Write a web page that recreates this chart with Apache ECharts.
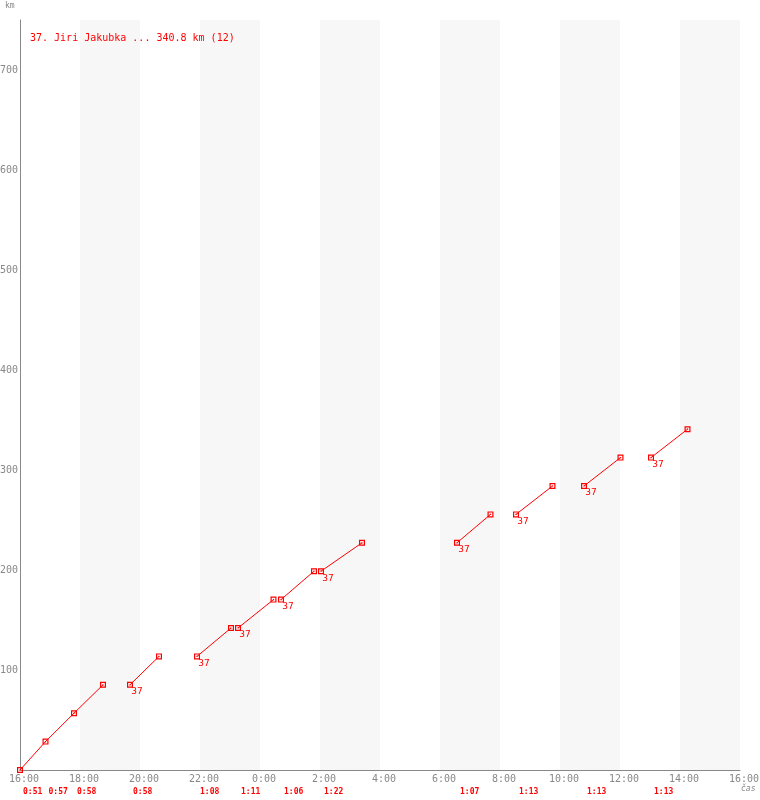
<!DOCTYPE html>
<html><head><meta charset="utf-8">
<script src="https://cdn.jsdelivr.net/npm/echarts@6/dist/echarts.min.js"></script>
<style>html,body{margin:0;padding:0;background:#fff}#c{width:760px;height:800px}</style>
</head><body><div id="c"></div>
<script>
// Data
const titleText = '37. Jiri Jakubka ... 340.8 km (12)';
const riderNo = '37';
const xTickLabels = ['16:00','18:00','20:00','22:00','0:00','2:00','4:00','6:00','8:00','10:00','12:00','14:00','16:00'];
// Each segment: list of [clock time, km]
const segments = [
  [['16:00',0],['16:51',28.4],['17:48',56.8],['18:46',85.2]],
  [['19:40',85.2],['20:38',113.6]],
  [['21:54',113.6],['23:02',142.0]],
  [['23:16',142.0],['0:27',170.4]],
  [['0:42',170.4],['1:48',198.8]],
  [['2:02',198.8],['3:24',227.2]],
  [['6:34',227.2],['7:41',255.6]],
  [['8:32',255.6],['9:45',284.0]],
  [['10:48',284.0],['12:01',312.4]],
  [['13:02',312.4],['14:15',340.8]]
];
const lapStarts = ['16:00','16:51','17:48','19:40','21:54','23:16','0:42','2:02','6:34','8:32','10:48','13:02'];
const lapTimes  = ['0:51','0:57','0:58','0:58','1:08','1:11','1:06','1:22','1:07','1:13','1:13','1:13'];

function toH(t){const p=t.split(':');return ((+p[0]-16+24)%24)+(+p[1])/60;}
const font='"DejaVu Sans Mono", monospace';
const marker='path://M0,0H5V5H0Z M1,1V4H4V1Z M2,2H3V3H2Z';

const series = segments.map((seg,si)=>({
  type:'line',
  data: seg.map((p,i)=>{
    const item={value:[toH(p[0]),p[1]]};
    if(i===0 && si>0){item.label={show:true,formatter:riderNo,position:'inside',offset:[7,7],color:'#ff0000',fontSize:9,fontFamily:'"DejaVu Sans", sans-serif'};}
    return item;
  }),
  symbol:marker, symbolSize:6, showSymbol:true,
  itemStyle:{color:'#ff0000'},
  lineStyle:{color:'#ff0000',width:1},
  label:{show:false},
  animation:false, silent:true, clip:false
}));
series.push({
  type:'custom',
  data: lapStarts.map((t,i)=>[toH(t),0,i]),
  renderItem:(params,api)=>{
    const p=api.coord([api.value(0),0]);
    return {type:'text',x:p[0]+3,y:p[1]+22,style:{text:lapTimes[api.value(2)],fill:'#ff0000',font:'bold 8px '+font,textAlign:'left',textVerticalAlign:'middle'}};
  },
  animation:false, silent:true
});

const chart=echarts.init(document.getElementById('c'),null,{renderer:'canvas'});
chart.setOption({
  animation:false,
  backgroundColor:'#fff',
  title:{text:titleText,left:30,top:33,padding:0,textStyle:{color:'#ff0000',fontSize:10,fontWeight:'normal',fontFamily:font}},
  grid:{left:20,top:20,width:720,height:750,outerBoundsMode:'none',containLabel:false},
  xAxis:{type:'value',min:0,max:24,interval:2,
    axisLine:{lineStyle:{color:'#888',width:1}},axisTick:{show:false},splitLine:{show:false},
    splitArea:{show:true,areaStyle:{color:['#ffffff','#f7f7f7']}},
    axisLabel:{color:'#888',fontSize:10,fontFamily:font,margin:4,padding:[0,0,0,8],
      formatter:v=>xTickLabels[Math.round(v/2)]||''}},
  yAxis:{type:'value',min:0,max:750,interval:100,
    axisLine:{show:true,lineStyle:{color:'#888',width:1}},axisTick:{show:false},
    splitLine:{lineStyle:{color:'#ebebeb',width:1}},
    axisLabel:{color:'#888',fontSize:10,fontFamily:font,margin:2,
      formatter:v=>(v>0&&v%100===0)?String(v):''}},
  graphic:[
    {type:'text',left:5,top:2,style:{text:'km',fill:'#888',font:'8px '+font}},
    {type:'text',left:741,top:785,style:{text:'čas',fill:'#888',font:'italic 8px '+font}}
  ],
  series:series
});
</script></body></html>
